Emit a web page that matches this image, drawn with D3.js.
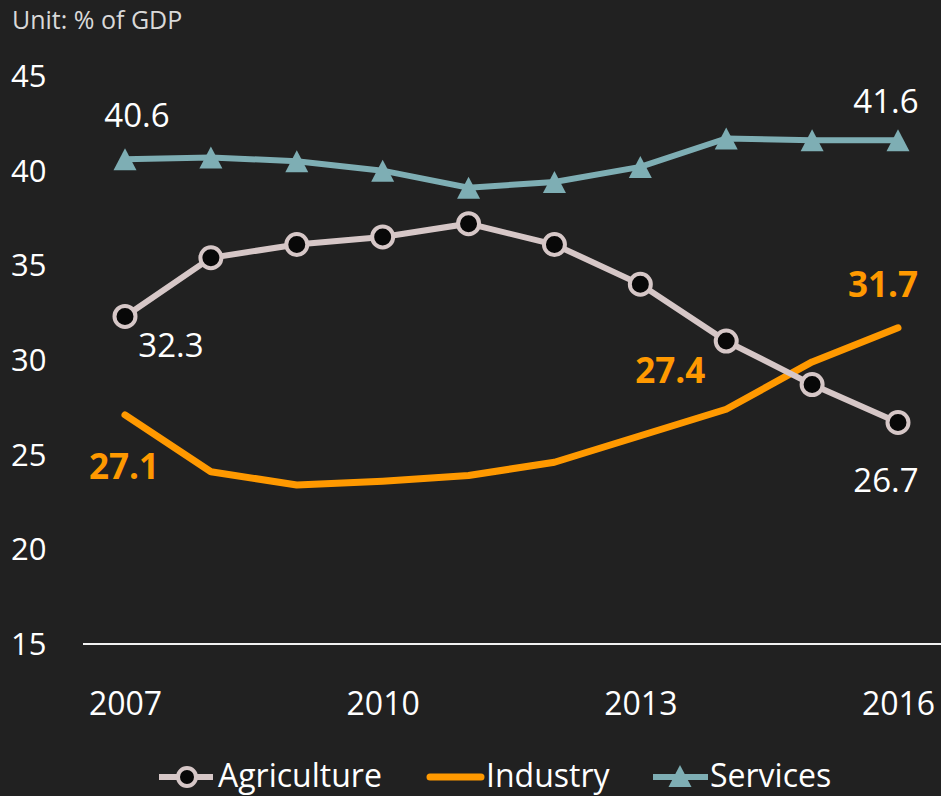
<!DOCTYPE html>
<html>
<head>
<meta charset="utf-8">
<script src="https://cdn.jsdelivr.net/npm/d3@7"></script>
<style>
  html, body { margin: 0; padding: 0; background: #212121; }
  svg { display: block; font-family: "Open Sans", "Noto Sans", sans-serif; }
</style>
</head>
<body>
<div class="canvas"></div>
<script>
const years = [2007, 2008, 2009, 2010, 2011, 2012, 2013, 2014, 2015, 2016];
const agriculture = [32.3, 35.4, 36.1, 36.5, 37.2, 36.1, 34.0, 31.0, 28.7, 26.7];
const industry = [27.1, 24.1, 23.4, 23.6, 23.9, 24.6, 26.0, 27.4, 29.9, 31.7];
const services = [40.6, 40.7, 40.5, 40.0, 39.1, 39.4, 40.2, 41.7, 41.6, 41.6];
const yTicks = [15, 20, 25, 30, 35, 40, 45];
const xTicks = [2007, 2010, 2013, 2016];

const svg = d3.select('.canvas')
  .append('svg')
  .attr('width', 941)
  .attr('height', 796);

svg.append('rect')
  .attr('width', 941)
  .attr('height', 796)
  .attr('fill', '#212121');

const x = d3.scaleLinear().domain([2007, 2016]).range([125, 898]);
const y = d3.scaleLinear().domain([15, 45]).range([644, 76]);

svg.append('text')
  .attr('x', 12)
  .attr('y', 29)
  .attr('fill', '#d9d9d9')
  .attr('font-size', 25)
  .text('Unit: % of GDP');

// y axis labels
svg.append('g')
  .selectAll('text')
  .data(yTicks)
  .join('text')
  .attr('x', 11)
  .attr('y', d => y(d))
  .attr('dy', '0.35em')
  .attr('fill', '#fff')
  .attr('font-size', 31)
  .text(d => d);

// x axis: baseline + labels
const xAxis = svg.append('g')
  .attr('transform', `translate(0, ${y(15)})`)
  .call(d3.axisBottom(x).tickValues(xTicks).tickFormat(d3.format('d')).tickSize(0).tickPadding(48));
xAxis.select('.domain').remove();
xAxis.selectAll('text')
  .attr('fill', '#fff')
  .attr('font-size', 32)
  .attr('font-family', '"Open Sans", sans-serif');
svg.append('line')
  .attr('x1', 83).attr('x2', 941)
  .attr('y1', y(15)).attr('y2', y(15))
  .attr('stroke', '#f2f2f2')
  .attr('stroke-width', 2);

const line = d3.line()
  .x((d, i) => x(years[i]))
  .y(d => y(d));

const triPath = 'M0,-11L11.5,11L-11.5,11Z';

// industry
svg.append('path')
  .attr('d', line(industry))
  .attr('fill', 'none')
  .attr('stroke', '#ff9900')
  .attr('stroke-width', 7)
  .attr('stroke-linejoin', 'round')
  .attr('stroke-linecap', 'round');

// services
svg.append('path')
  .attr('d', line(services))
  .attr('fill', 'none')
  .attr('stroke', '#7eaeb4')
  .attr('stroke-width', 6);
svg.append('g')
  .selectAll('path')
  .data(services)
  .join('path')
  .attr('transform', (d, i) => `translate(${x(years[i])}, ${y(d)})`)
  .attr('d', triPath)
  .attr('fill', '#7eaeb4');

// agriculture
svg.append('path')
  .attr('d', line(agriculture))
  .attr('fill', 'none')
  .attr('stroke', '#d6c7c7')
  .attr('stroke-width', 6);
svg.append('g')
  .selectAll('circle')
  .data(agriculture)
  .join('circle')
  .attr('cx', (d, i) => x(years[i]))
  .attr('cy', d => y(d))
  .attr('r', 10.5)
  .attr('fill', '#080808')
  .attr('stroke', '#d6c7c7')
  .attr('stroke-width', 4);

// value labels
function label(values, i, dx, dy, bold) {
  svg.append('text')
    .attr('x', x(years[i]) + dx)
    .attr('y', y(values[i]) + dy)
    .attr('text-anchor', 'middle')
    .attr('fill', bold ? '#ff9900' : '#fff')
    .attr('font-weight', bold ? 'bold' : 'normal')
    .attr('font-size', bold ? 35 : 33)
    .text(values[i].toFixed(1));
}
label(services, 0, 12, -32, false);
label(services, 9, -12, -27, false);
label(agriculture, 0, 46, 41, false);
label(agriculture, 9, -12, 70, false);
label(industry, 0, -1, 64, true);
label(industry, 7, -56, -26, true);
label(industry, 9, -15, -31, true);

// legend
const legend = svg.append('g');
const ly = 777;
legend.append('line')
  .attr('x1', 159).attr('x2', 213).attr('y1', ly).attr('y2', ly)
  .attr('stroke', '#d6c7c7').attr('stroke-width', 6);
legend.append('circle')
  .attr('cx', 187).attr('cy', ly).attr('r', 9)
  .attr('fill', '#080808').attr('stroke', '#d6c7c7').attr('stroke-width', 4);
legend.append('line')
  .attr('x1', 430).attr('x2', 481).attr('y1', ly).attr('y2', ly)
  .attr('stroke', '#ff9900').attr('stroke-width', 7).attr('stroke-linecap', 'round');
legend.append('line')
  .attr('x1', 653).attr('x2', 708).attr('y1', ly).attr('y2', ly)
  .attr('stroke', '#7eaeb4').attr('stroke-width', 6);
legend.append('path')
  .attr('transform', `translate(680, ${ly - 1})`)
  .attr('d', triPath)
  .attr('fill', '#7eaeb4');
legend.selectAll('text')
  .data([['Agriculture', 218], ['Industry', 486], ['Services', 710]])
  .join('text')
  .attr('x', d => d[1])
  .attr('y', 787)
  .attr('fill', '#fff')
  .attr('font-size', 32)
  .text(d => d[0]);
</script>
</body>
</html>
